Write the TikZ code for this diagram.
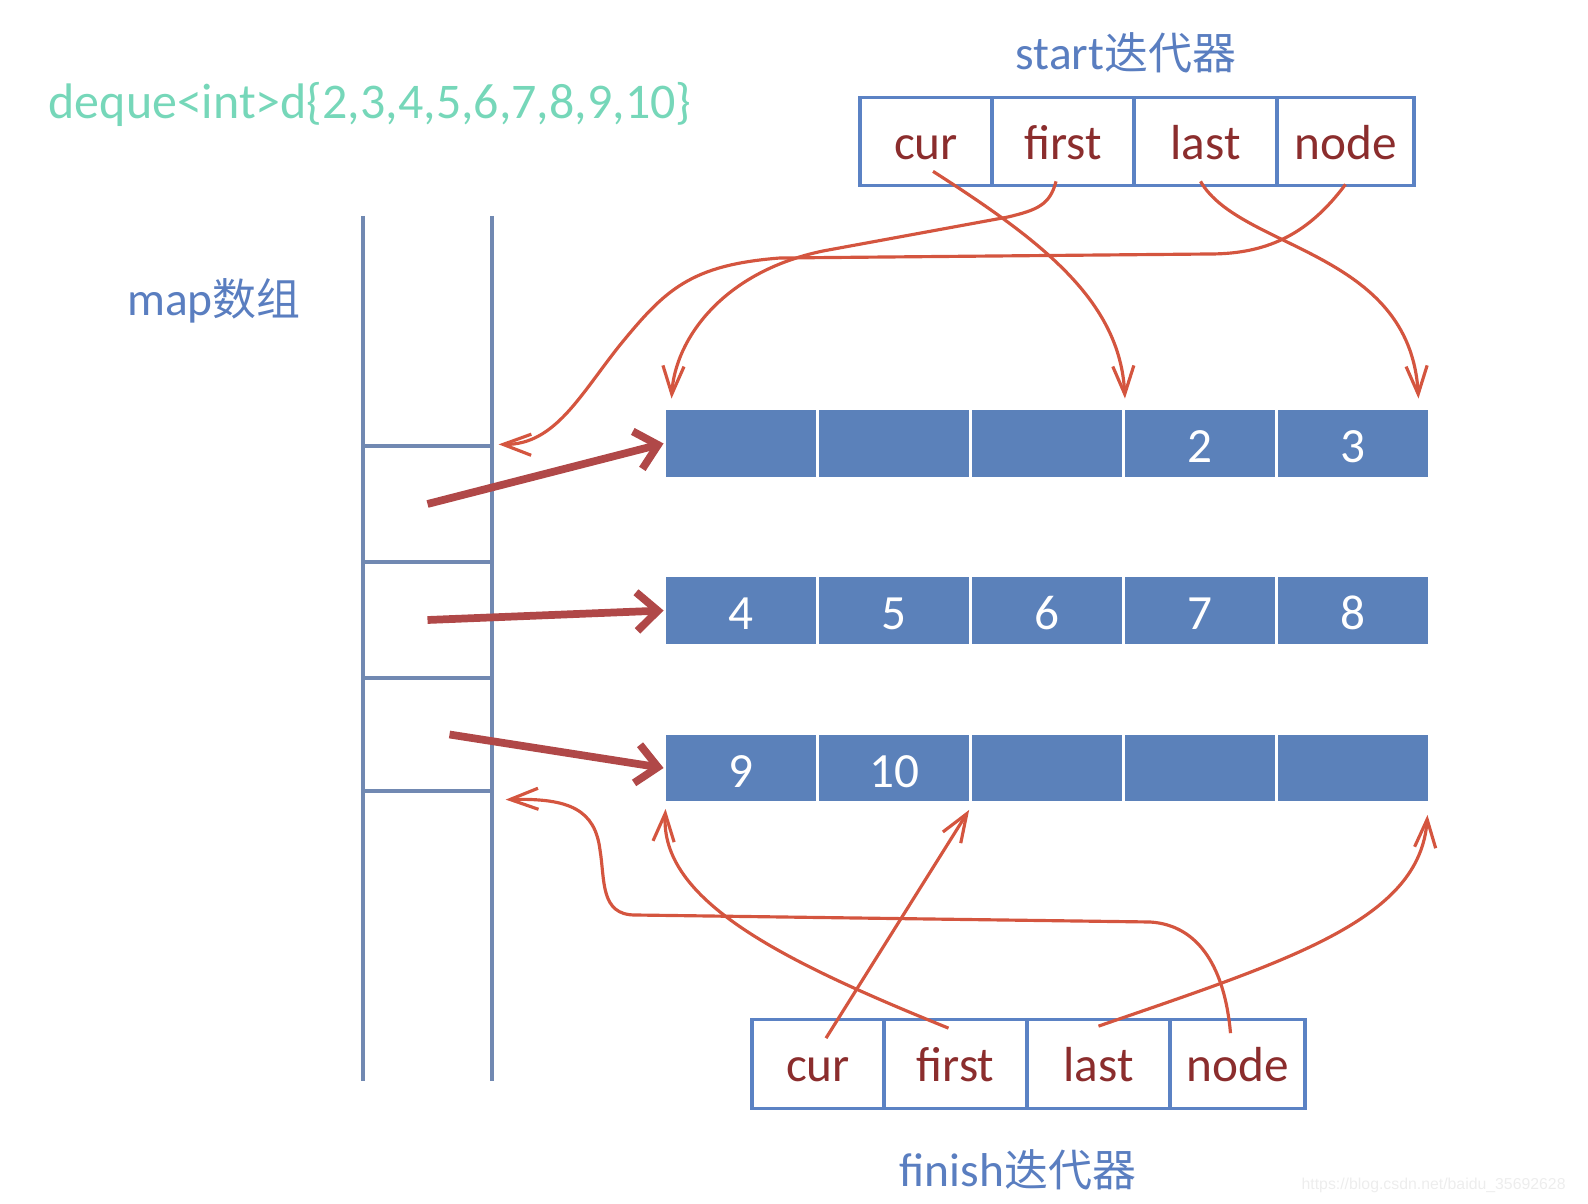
\documentclass[tikz,border=0pt]{standalone}
\usepackage{fontspec}
\setmainfont{Carlito}
\newfontfamily\cjk{Noto Sans CJK SC}
\newfontfamily\wmfont{Liberation Sans}
\usetikzlibrary{arrows.meta}
\definecolor{row-blue}{HTML}{5B81BA}
\definecolor{box-blue}{HTML}{5B82C4}
\definecolor{map-blue}{HTML}{7189B2}
\definecolor{title-blue}{HTML}{5A7EC0}
\definecolor{label-red}{HTML}{8B2D2D}
\definecolor{link-red}{HTML}{D4553F}
\definecolor{ptr-red}{HTML}{B04848}
\definecolor{code-green}{HTML}{76D7B9}

\begin{document}
\begin{tikzpicture}[x=0.01cm, y=-0.01cm,
      every node/.style={font=\fontsize{14}{16}\selectfont},
      ptrcell/.style={draw=box-blue, line width=0.9pt, minimum height=0.885cm,
          inner sep=0pt, text=label-red, text height=10pt, text depth=0pt},
      blkcell/.style={draw=white, line width=0.8pt, fill=row-blue,
          minimum width=1.528cm, minimum height=0.69cm, inner sep=0pt,
          text=white, text height=11pt, text depth=0pt},
      mapcell/.style={draw=map-blue, line width=0.9pt, minimum width=1.29cm,
          inner sep=0pt},
      title/.style={text=title-blue, font=\fontsize{13.5}{16}\selectfont},
      link/.style={draw=link-red, line width=0.9pt,
          -{Straight Barb[length=8pt, width=6pt]}},
      ptr/.style={draw=ptr-red, line width=2.2pt,
          -{Straight Barb[length=6pt, width=11pt]}}]
    \useasboundingbox (0,0) rectangle (1588,1204);

    \node[text=code-green, anchor=base west, inner sep=0pt,
          font=\fontsize{14.2}{16}\selectfont] (decl) at (48,119)
          {deque<int>d\{2,3,4,5,6,7,8,9,10\}};
    \node[title] (maplbl) at (214,301) {map{\cjk\fontsize{12.5}{16}\selectfont 数组}};
    \node[title] (stitle) at (1126,53) {start{\cjk\fontsize{12.5}{16}\selectfont 迭代器}};
    \node[title] (ftitle) at (1018,1170) {finish{\cjk\fontsize{12.5}{16}\selectfont 迭代器}};

    % map array
    \draw[map-blue, line width=0.9pt] (363,216) -- (363,1081);
    \draw[map-blue, line width=0.9pt] (492,216) -- (492,1081);
    \node[mapcell, minimum height=1.16cm] (m1) at (427.5,504) {};
    \node[mapcell, minimum height=1.16cm] (m2) at (427.5,620) {};
    \node[mapcell, minimum height=1.13cm] (m3) at (427.5,734.5) {};

    % start iterator
    \node[ptrcell, minimum width=1.32cm] (scur) at (926,141.5) {cur};
    \node[ptrcell, minimum width=1.42cm] (sfirst) at (1063,141.5) {first};
    \node[ptrcell, minimum width=1.43cm] (slast) at (1205.5,141.5) {last};
    \node[ptrcell, minimum width=1.37cm] (snode) at (1345.5,141.5) {node};

    % finish iterator
    \node[ptrcell, minimum width=1.32cm] (fcur) at (818,1064) {cur};
    \node[ptrcell, minimum width=1.43cm] (ffirst) at (955.5,1064) {first};
    \node[ptrcell, minimum width=1.43cm] (flast) at (1098.5,1064) {last};
    \node[ptrcell, minimum width=1.35cm] (fnode) at (1237.5,1064) {node};

    % buffers
    \node[blkcell] (r1c1) at (741.4,443.5) {};
    \node[blkcell] (r1c2) at (894.2,443.5) {};
    \node[blkcell] (r1c3) at (1047,443.5) {};
    \node[blkcell] (r1c4) at (1199.8,443.5) {2};
    \node[blkcell] (r1c5) at (1352.6,443.5) {3};
    \node[blkcell] (r2c1) at (741.4,610.5) {4};
    \node[blkcell] (r2c2) at (894.2,610.5) {5};
    \node[blkcell] (r2c3) at (1047,610.5) {6};
    \node[blkcell] (r2c4) at (1199.8,610.5) {7};
    \node[blkcell] (r2c5) at (1352.6,610.5) {8};
    \node[blkcell] (r3c1) at (741.4,768) {9};
    \node[blkcell] (r3c2) at (894.2,768) {10};
    \node[blkcell] (r3c3) at (1047,768) {};
    \node[blkcell] (r3c4) at (1199.8,768) {};
    \node[blkcell] (r3c5) at (1352.6,768) {};

    \draw[ptr] (m1.center) -- (r1c1.west);
    \draw[ptr] (m2.center) -- (r2c1.west);
    \draw[ptr] ([shift={(22,0)}]m3.center) -- (r3c1.west);

    \draw[link] ([shift={(7,-16)}]scur.south) .. controls (1040,240) and (1120,300)
          .. ([shift={(3,-9)}]r1c4.north west);
    \draw[link] ([shift={(-7,-6)}]sfirst.south) .. controls (1050,205) and (1037,210)
          .. (1008,217) -- (823,251) .. controls (722,272) and (675,340)
          .. ([shift={(8,-9)}]r1c1.north west);
    \draw[link] ([shift={(-5,-6)}]slast.south) .. controls (1240,250) and (1410,250)
          .. ([shift={(-12,-9)}]r1c5.north east);
    \draw[link] ([shift={(0,-3)}]snode.south) .. controls (1310,232) and (1270,254)
          .. (1210,254) -- (780,258) .. controls (690,265) and (665,290)
          .. (620,345) .. controls (580,395) and (555,445)
          .. ([shift={(5,0)}]m1.north east);

    \draw[link] ([shift={(8,20)}]fcur.north) -- ([shift={(0,6)}]r3c3.south west);
    \draw[link] ([shift={(-7,10)}]ffirst.north) .. controls (780,960) and (660,900)
          .. ([shift={(2,5)}]r3c1.south west);
    \draw[link] ([shift={(0,8)}]flast.north) .. controls (1290,960) and (1420,920)
          .. ([shift={(-3,11)}]r3c5.south east);
    \draw[link] ([shift={(-7,15)}]fnode.north) .. controls (1225,970) and (1200,925)
          .. (1150,922) -- (635,915) .. controls (600,915) and (605,880)
          .. (600,850) .. controls (595,810) and (570,798)
          .. ([shift={(12,7)}]m3.south east);

    \node[text=black!7, font=\wmfont\fontsize{4.5}{5}\selectfont, anchor=east]
          (mark) at (1578,1185) {https://blog.csdn.net/baidu\_35692628};
  \end{tikzpicture}
\end{document}
